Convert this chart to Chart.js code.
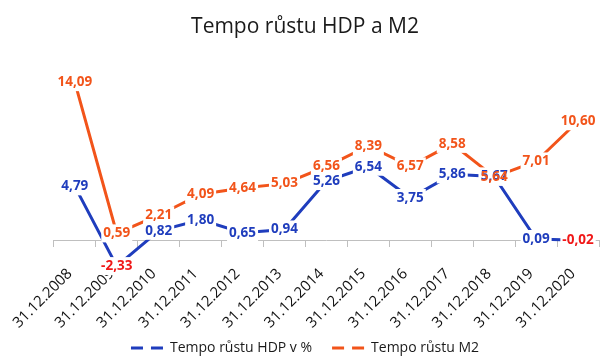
<!DOCTYPE html>
<html>
<head>
<meta charset="utf-8">
<script src="https://cdn.jsdelivr.net/npm/chart.js@4"></script>
<style>
  html, body { margin: 0; padding: 0; background: #ffffff; }
  #wrap { width: 610px; height: 358px; }
</style>
</head>
<body>
<div id="wrap"><canvas id="c" width="610" height="358"></canvas></div>
<script>
const categories = ['31.12.2008','31.12.2009','31.12.2010','31.12.2011','31.12.2012','31.12.2013','31.12.2014','31.12.2015','31.12.2016','31.12.2017','31.12.2018','31.12.2019','31.12.2020'];
const hdpValues = [4.79, -2.33, 0.82, 1.80, 0.65, 0.94, 5.26, 6.54, 3.75, 5.86, 5.67, 0.09, -0.02];
const m2Values = [14.09, 0.59, 2.21, 4.09, 4.64, 5.03, 6.56, 8.39, 6.57, 8.58, 5.64, 7.01, 10.60];
const seriesNames = ['Tempo růstu HDP v %', 'Tempo růstu M2'];
const titleText = 'Tempo růstu HDP a M2';

const BLUE = '#1f3dbd';
const ORANGE = '#f2541a';
const NEG = '#f01818';
const FONT = '"Open Sans", Lato, sans-serif';

const valueLabels = {
  id: 'valueLabels',
  afterDatasetsDraw(chart) {
    const ctx = chart.ctx;
    const items = [];
    chart.data.datasets.forEach((ds, di) => {
      const meta = chart.getDatasetMeta(di);
      meta.data.forEach((pt, i) => {
        const v = ds.data[i];
        items.push({ x: pt.x, y: pt.y, text: v.toFixed(2).replace('.', ','), color: v < 0 ? NEG : ds.borderColor });
      });
    });
    ctx.save();
    ctx.font = 'bold 13.5px ' + FONT;
    ctx.textAlign = 'center';
    ctx.textBaseline = 'middle';
    items.forEach(it => {
      const w = ctx.measureText(it.text).width;
      ctx.fillStyle = '#ffffff';
      ctx.fillRect(it.x - w / 2 - 2, it.y - 9, w + 4, 18);
    });
    items.forEach(it => {
      ctx.fillStyle = it.color;
      ctx.fillText(it.text, it.x, it.y);
    });
    ctx.restore();
  }
};

new Chart(document.getElementById('c'), {
  type: 'line',
  data: {
    labels: categories,
    datasets: [
      { label: seriesNames[0], data: hdpValues, borderColor: BLUE, backgroundColor: BLUE, borderWidth: 3, pointRadius: 0, tension: 0, fill: false },
      { label: seriesNames[1], data: m2Values, borderColor: ORANGE, backgroundColor: ORANGE, borderWidth: 3, pointRadius: 0, tension: 0, fill: false }
    ]
  },
  options: {
    responsive: false,
    animation: false,
    devicePixelRatio: 1,
    layout: { padding: { left: 11, right: 11, top: 0, bottom: -7 } },
    scales: {
      x: {
        type: 'category',
        position: { y: 0 },
        offset: true,
        grid: { display: true, drawOnChartArea: false, drawTicks: true, tickLength: 6, offset: true, color: '#bfbfbf' },
        border: { display: true, color: '#bfbfbf', width: 1 },
        ticks: { minRotation: 45, maxRotation: 45, padding: 19, labelOffset: -5, color: '#111111', font: { family: FONT, size: 15 } }
      },
      y: {
        display: true,
        min: -7.23,
        max: 17.12,
        grid: { display: false },
        border: { display: false },
        ticks: { display: false },
        afterFit(scale) { scale.width = 34; }
      }
    },
    plugins: {
      title: {
        display: true,
        text: titleText,
        color: '#1a1a1a',
        font: { family: FONT, size: 21, weight: 'normal' },
        padding: { top: 14, bottom: 9 }
      },
      legend: {
        display: true,
        position: 'bottom',
        labels: {
          usePointStyle: true,
          pointStyleWidth: 32,
          boxHeight: 14,
          padding: 20,
          color: '#1a1a1a',
          font: { family: FONT, size: 14 },
          generateLabels(chart) {
            return chart.data.datasets.map((ds, i) => ({
              text: ds.label,
              pointStyle: 'line',
              strokeStyle: ds.borderColor,
              fillStyle: ds.borderColor,
              lineWidth: 3,
              lineDash: [12, 8],
              fontColor: '#1a1a1a',
              datasetIndex: i,
              hidden: false
            }));
          }
        }
      },
      tooltip: { enabled: false }
    }
  },
  plugins: [valueLabels]
});
</script>
</body>
</html>
